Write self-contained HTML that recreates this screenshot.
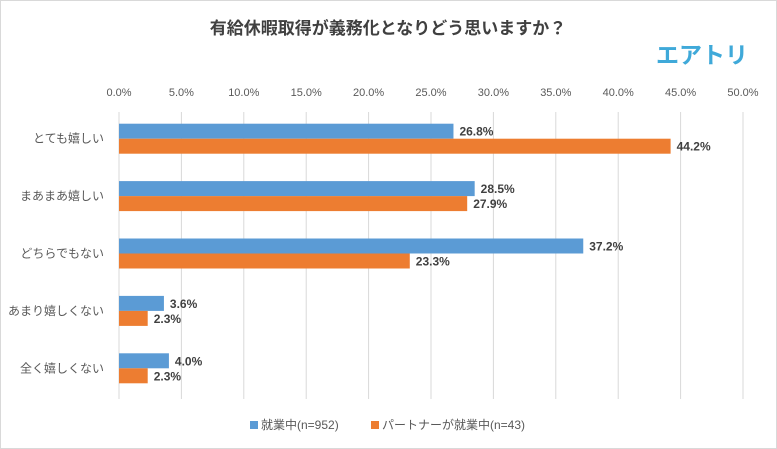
<!DOCTYPE html>
<html><head><meta charset="utf-8"><style>
body{margin:0;background:#fff;}
svg{display:block;font-family:"Liberation Sans","Noto Sans CJK JP",sans-serif;}
</style></head><body>
<svg id="c" width="777" height="449">
<rect x="0.5" y="0.5" width="776" height="448" fill="#fff" stroke="#d9d9d9"/>
<text x="388" y="34" text-anchor="middle" font-size="17" font-weight="bold" fill="#404040">有給休暇取得が義務化となりどう思いますか？</text>
<text x="748" y="63" text-anchor="end" font-size="23" font-weight="bold" fill="#3fa9d9">エアトリ</text>
<g id="grid"></g><g id="bars"></g>
<g>
<rect x="250" y="421" width="8" height="8" fill="#5b9bd5"/>
<text x="261" y="429" font-size="12" fill="#595959">就業中(n=952)</text>
<rect x="371" y="421" width="8" height="8" fill="#ed7d31"/>
<text x="382" y="429" font-size="12" fill="#595959">パートナーが就業中(n=43)</text>
</g>
</svg>
<script>
const categories=["とても嬉しい","まあまあ嬉しい","どちらでもない","あまり嬉しくない","全く嬉しくない"];
const working=[26.8,28.5,37.2,3.6,4.0];
const partner=[44.2,27.9,23.3,2.3,2.3];
const ticks=[0,5,10,15,20,25,30,35,40,45,50];
const NS="http://www.w3.org/2000/svg";
const x0=119,x1=743,plotTop=112,plotBottom=399;
const xs=v=>x0+(x1-x0)*v/50;
const band=(plotBottom-plotTop)/categories.length;
const g=document.getElementById('grid'),b=document.getElementById('bars');
function mk(t,a,p){const e=document.createElementNS(NS,t);for(const k in a)e.setAttribute(k,a[k]);p.appendChild(e);return e;}
ticks.forEach(t=>{
 const l=mk('line',{x1:xs(t),x2:xs(t),y1:plotTop,y2:plotBottom,stroke:'#d9d9d9'},g);
 
 
 const tx=mk('text',{x:xs(t),y:96,'text-anchor':'middle','font-size':11,fill:'#595959'},g);
 tx.textContent=t.toFixed(1)+'%';
 
 
});
categories.forEach((c,i)=>{
 const cy=plotTop+band*i+band/2-2;
 const lab=mk('text',{x:104,y:cy+4,'text-anchor':'end','font-size':12,fill:'#595959'},b);
 lab.textContent=c;
 
 
 [[working,'#5b9bd5',-15],[partner,'#ed7d31',0]].forEach(([arr,col,off])=>{
  const r=mk('rect',{x:x0,y:cy+off,width:xs(arr[i])-x0,height:15,fill:col},b);
  
  
  const t=mk('text',{x:xs(arr[i])+6,y:cy+off+12,'font-size':12,'font-weight':'bold',fill:'#404040'},b);
  t.textContent=arr[i].toFixed(1)+'%';
  
  
 });
});
</script>
</body></html>
